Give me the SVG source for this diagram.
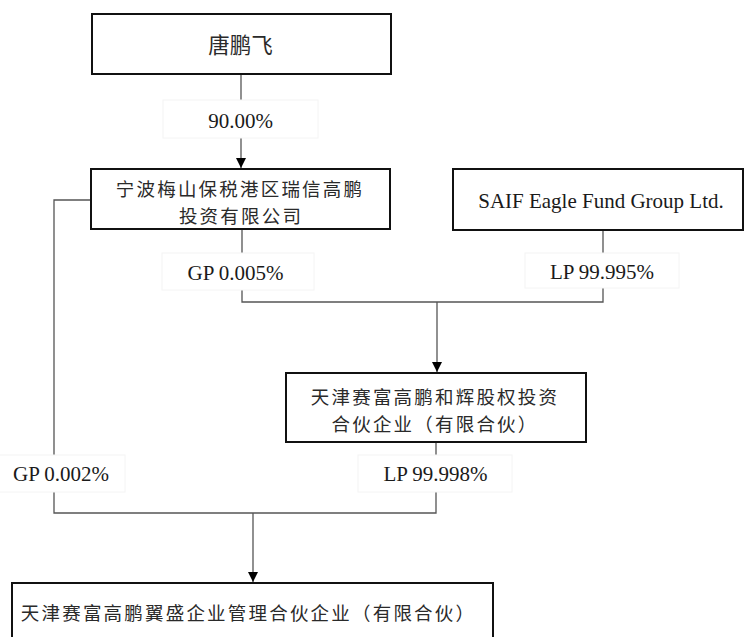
<svg xmlns="http://www.w3.org/2000/svg" width="744" height="637" viewBox="0 0 744 637">
<style>
.box{fill:#fff;stroke:#111;stroke-width:2}
.lbl{fill:#fff;stroke:#f4f4f4;stroke-width:1}
.ln{fill:none;stroke:#555;stroke-width:1.3}
.cjk{font-family:"Noto Sans CJK SC","Noto Sans CJK JP",sans-serif;font-size:18.5px;letter-spacing:2.2px;fill:#2a2a2a;text-anchor:middle}
.lat{font-family:"Liberation Serif","Times New Roman",serif;font-size:21px;fill:#1a1a1a;text-anchor:middle}
</style>
<defs>
<marker id="arr" viewBox="0 0 10 10" markerUnits="userSpaceOnUse" markerWidth="10" markerHeight="11" refX="10" refY="5" orient="auto">
<path d="M0,0 L10,5 L0,10 z" fill="#000"/>
</marker>
</defs>
<rect width="744" height="637" fill="#fff"/>
<g id="connectors">
<path class="ln" d="M241,74 V168" marker-end="url(#arr)"/>
<path class="ln" d="M91,200 H54 V513 H436 V442"/>
<path class="ln" d="M253,513 V582" marker-end="url(#arr)"/>
<path class="ln" d="M242,229 V302 H603 V230"/>
<path class="ln" d="M437,302 V372" marker-end="url(#arr)"/>
<g id="label-90">
<rect class="lbl" x="163" y="100" width="155" height="38"/>
<text class="lat" x="240.5" y="128">90.00%</text>
</g>
<g id="label-gp005">
<rect class="lbl" x="162" y="253" width="152" height="37"/>
<text class="lat" x="235.5" y="280">GP 0.005%</text>
</g>
<g id="label-lp995">
<rect class="lbl" x="525" y="253" width="154" height="35"/>
<text class="lat" x="602" y="279">LP 99.995%</text>
</g>
<g id="label-gp002">
<rect class="lbl" x="-1" y="455" width="126" height="37"/>
<text class="lat" x="61" y="481">GP 0.002%</text>
</g>
<g id="label-lp998">
<rect class="lbl" x="358" y="455" width="154" height="37"/>
<text class="lat" x="435.5" y="481">LP 99.998%</text>
</g>
</g>
<g id="node-tang">
<rect class="box" x="92" y="14" width="299" height="60"/>
<text class="cjk" x="240.5" y="53" style="font-size:21.5px;letter-spacing:0">唐鹏飞</text>
</g>
<g id="node-ningbo">
<rect class="box" x="91" y="169" width="299" height="60"/>
<text class="cjk"><tspan x="240" y="196">宁波梅山保税港区瑞信高鹏</tspan><tspan x="241" y="223">投资有限公司</tspan></text>
</g>
<g id="node-saif">
<rect class="box" x="453" y="169" width="290" height="61"/>
<text class="lat" x="601" y="208">SAIF Eagle Fund Group Ltd.</text>
</g>
<g id="node-hehui">
<rect class="box" x="286" y="373" width="300" height="69"/>
<text class="cjk"><tspan x="435" y="404">天津赛富高鹏和辉股权投资</tspan><tspan x="435" y="431">合伙企业（有限合伙）</tspan></text>
</g>
<g id="node-yisheng">
<rect class="box" x="12" y="583" width="481" height="62"/>
<text class="cjk" x="248.5" y="620">天津赛富高鹏翼盛企业管理合伙企业（有限合伙）</text>
</g>
</svg>
